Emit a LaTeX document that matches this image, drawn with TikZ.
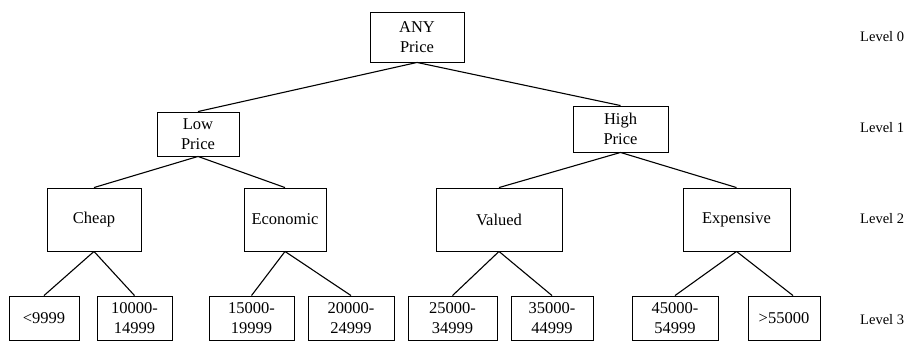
\documentclass[tikz,border=0pt]{standalone}
\usepackage{fontspec}
\setmainfont{Liberation Serif}
\begin{document}
\begin{tikzpicture}[x=1pt,y=-1pt,
  box/.style={draw,line width=0.9pt,inner sep=0pt,align=center,font=\fontsize{16.5}{19.5}\selectfont},
  lvl/.style={anchor=west,inner sep=0pt,font=\fontsize{14.5}{16}\selectfont},
  edge/.style={line width=1.1pt}]
\useasboundingbox (0,0) rectangle (915,346);
% level 0/1
\node[box,minimum width=94pt,minimum height=50pt] (any) at (417,37) {ANY\\Price};
\node[box,minimum width=82pt,minimum height=44pt] (low) at (198,134) {Low\\Price};
\node[box,minimum width=95pt,minimum height=46pt] (high) at (620.5,129) {High\\Price};
% level 2
\node[box,minimum width=94pt,minimum height=63pt] (cheap) at (94,219.5) {Cheap};
\node[box,minimum width=82pt,minimum height=63pt] (econ) at (285,219.5) {Economic};
\node[box,minimum width=126pt,minimum height=63pt] (valued) at (499,219.5) {Valued};
\node[box,minimum width=107pt,minimum height=63pt] (exp) at (736.5,219.5) {Expensive};
% level 3
\node[box,minimum width=70pt,minimum height=44pt] (l1) at (44,318) {<9999};
\node[box,minimum width=75pt,minimum height=44pt] (l2) at (134.5,318) {10000-\\14999};
\node[box,minimum width=85pt,minimum height=44pt] (l3) at (251.5,318) {15000-\\19999};
\node[box,minimum width=86pt,minimum height=44pt] (l4) at (351,318) {20000-\\24999};
\node[box,minimum width=89pt,minimum height=44pt] (l5) at (452.5,318) {25000-\\34999};
\node[box,minimum width=82pt,minimum height=44pt] (l6) at (552,318) {35000-\\44999};
\node[box,minimum width=86pt,minimum height=44pt] (l7) at (675,318) {45000-\\54999};
\node[box,minimum width=72pt,minimum height=44pt] (l8) at (784,318) {>55000};
% levels
\node[lvl] (lv0) at (860,37) {Level 0};
\node[lvl] (lv1) at (860,128) {Level 1};
\node[lvl] (lv2) at (860,219) {Level 2};
\node[lvl] (lv3) at (860,320) {Level 3};
% edges
\draw[edge] (any.south) -- (low.north);
\draw[edge] (any.south) -- (high.north);
\draw[edge] (low.south) -- (cheap.north);
\draw[edge] (low.south) -- (econ.north);
\draw[edge] (high.south) -- (valued.north);
\draw[edge] (high.south) -- (exp.north);
\draw[edge] (cheap.south) -- (l1.north);
\draw[edge] (cheap.south) -- (l2.north);
\draw[edge] (econ.south) -- (l3.north);
\draw[edge] (econ.south) -- (l4.north);
\draw[edge] (valued.south) -- (l5.north);
\draw[edge] (valued.south) -- (l6.north);
\draw[edge] (exp.south) -- (l7.north);
\draw[edge] (exp.south) -- ([xshift=9pt]l8.north);
\end{tikzpicture}
\end{document}
